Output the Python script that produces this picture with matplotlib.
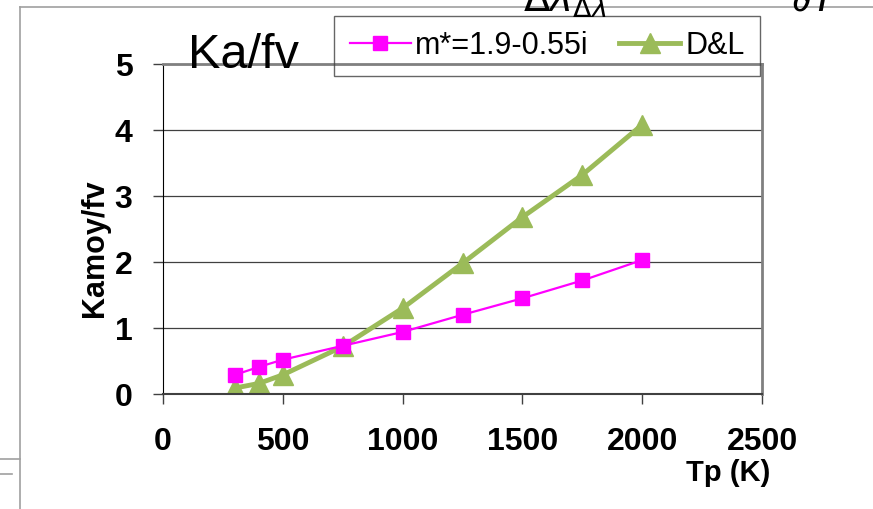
import matplotlib.pyplot as plt
from matplotlib.lines import Line2D

# Dữ liệu
tp = [300, 400, 500, 750, 1000, 1250, 1500, 1750, 2000]
ka_m = [0.29, 0.41, 0.52, 0.73, 0.94, 1.20, 1.45, 1.72, 2.03]
ka_dl = [0.09, 0.16, 0.29, 0.72, 1.30, 1.98, 2.68, 3.32, 4.08]
x_ticks = [0, 500, 1000, 1500, 2000, 2500]
y_ticks = [0, 1, 2, 3, 4, 5]

plt.rcParams['font.family'] = ['Liberation Sans', 'DejaVu Sans']

fig = plt.figure(figsize=(8.73, 5.09), dpi=100)
ax = fig.add_axes([163 / 873, 115 / 509, 599 / 873, 330 / 509])

ax.plot(tp, ka_m, color='#FF00FF', lw=1.6, marker='s', ms=10,
        label='m*=1.9-0.55i', zorder=3)
ax.plot(tp, ka_dl, color='#9BBB59', lw=3.5, marker='^', ms=15,
        label='D&L', zorder=2)

ax.set_xlim(0, 2500)
ax.set_ylim(0, 5)
ax.set_xticks(x_ticks)
ax.set_yticks(y_ticks)
ax.tick_params(axis='both', direction='out', length=7, width=1, labelsize=23, color='#404040')
ax.tick_params(axis='x', pad=17)
ax.tick_params(axis='y', pad=15)
for lab in ax.get_xticklabels() + ax.get_yticklabels():
    lab.set_fontweight('bold')

ax.grid(axis='y', color='#404040', lw=0.9)
ax.set_axisbelow(True)
ax.spines['left'].set_color('black')
ax.spines['bottom'].set_color('#404040')
ax.spines['bottom'].set_linewidth(1.5)
for s in ['top', 'right']:
    ax.spines[s].set_color('#808080')
    ax.spines[s].set_linewidth(2)

leg = ax.legend(loc='center', bbox_to_anchor=(547 / 873, 1 - 46 / 509),
                bbox_transform=fig.transFigure, ncol=2, fontsize=22,
                frameon=True, fancybox=False, edgecolor='#404040',
                facecolor='none', handlelength=2.0, handletextpad=0.15,
                columnspacing=1.0, borderpad=0.5, borderaxespad=0)
leg.get_frame().set_linewidth(1)

fig.text(188 / 873, 1 - 68 / 509, 'Ka/fv', fontsize=35, va='baseline', ha='left')
fig.text(95 / 873, 1 - 248 / 509, 'Kamoy/fv', fontsize=22, fontweight='bold',
         rotation=90, ha='center', va='center')
fig.text(770 / 873, 1 - 473 / 509, 'Tp (K)', fontsize=21, fontweight='bold',
         ha='right', va='center')

# phần công thức bị cắt ở trên
fig.text(565 / 873, 1.0, r'$\Delta\lambda_{\Delta\lambda}$', fontsize=28,
         family='DejaVu Serif', ha='center', va='center')
fig.text(815 / 873, 1.0, r'$\partial T$', fontsize=28,
         family='DejaVu Serif', ha='center', va='center')

# khung ngoài
gray = '#A0A0A0'
fig.add_artist(Line2D([20 / 873, 1], [1 - 7 / 509, 1 - 7 / 509], color=gray, lw=1.2,
                      transform=fig.transFigure))
fig.add_artist(Line2D([20 / 873, 20 / 873], [1 - 7 / 509, 0], color=gray, lw=1.2,
                      transform=fig.transFigure))
fig.add_artist(Line2D([0, 20 / 873], [1 - 459 / 509, 1 - 459 / 509], color=gray, lw=1.2,
                      transform=fig.transFigure))
fig.add_artist(Line2D([0, 12 / 873], [1 - 474 / 509, 1 - 474 / 509], color=gray, lw=1.2,
                      transform=fig.transFigure))

fig.savefig('out.png', dpi=100)
